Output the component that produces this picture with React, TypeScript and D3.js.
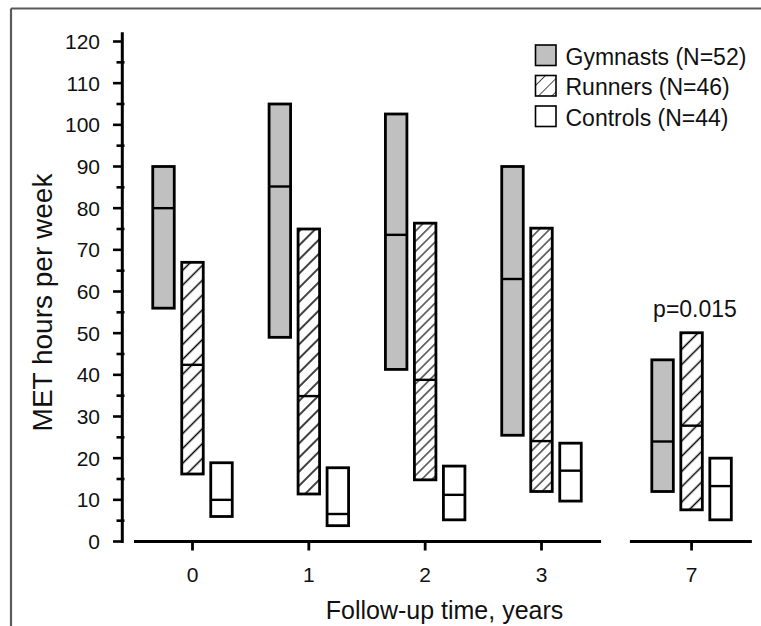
import React from "react";
import * as d3 from "d3";

// Follow-up categories (years) and layout slots of the broken x axis
const years = ["0", "1", "2", "3", "7"];
const slots = [0, 1, 2, 3, 4.29];

// MET hours per week — box top (upper), median, bottom (lower) per group
const gymTop = [90, 105, 102.6, 90, 43.6];
const gymMed = [80, 85.2, 73.6, 63, 24];
const gymBot = [56, 49, 41.3, 25.5, 12];

const runTop = [67, 75, 76.4, 75.2, 50.1];
const runMed = [42.4, 34.9, 38.8, 24.1, 27.8];
const runBot = [16.2, 11.4, 14.8, 12, 7.6];

const conTop = [18.9, 17.7, 18.1, 23.6, 20];
const conMed = [10, 6.6, 11.2, 17, 13.3];
const conBot = [6, 3.8, 5.2, 9.7, 5.2];

const yTicks = [0, 10, 20, 30, 40, 50, 60, 70, 80, 90, 100, 110, 120];
const yMinor = [5, 15, 25, 35, 45, 55, 65, 75, 85, 95, 105, 115];

const legendLabels = ["Gymnasts (N=52)", "Runners (N=46)", "Controls (N=44)"];
const pLabel = "p=0.015";

// hatch spacing per group (style)
const hatchGap = [10.5, 10, 7.2, 7.2, 10.8];
const hatchWidth = [1.5, 1.5, 1.1, 1.1, 1.5];

const FONT = "'Liberation Sans', Arial, Helvetica, sans-serif";

export default function App() {
  const W = 761;
  const H = 626;
  const y = d3.scaleLinear().domain([0, 120]).range([541.5, 41.5]);
  const x = d3.scaleLinear().domain([0, 3]).range([192.5, 541.5]);
  const boxW = 21.5;
  const off = 29;
  const seg1 = [-0.503, 3.512];
  const seg2 = [3.76, 4.808];
  const axisY = y(0);

  const series = [
    { top: gymTop, med: gymMed, bot: gymBot, dx: -off, kind: "gym" },
    { top: runTop, med: runMed, bot: runBot, dx: 0, kind: "run" },
    { top: conTop, med: conMed, bot: conBot, dx: off, kind: "con" },
  ];

  const fillFor = (kind: string, gi: number) =>
    kind === "gym" ? "#c0c0c0" : kind === "run" ? `url(#hatch${gi})` : "#ffffff";

  return (
    <div style={{ position: "fixed", left: 0, top: 0 }}>
      <svg width={W} height={H} style={{ display: "block", background: "#fff" }}>
        <defs>
          {years.map((_, gi) => (
            <pattern
              key={gi}
              id={`hatch${gi}`}
              patternUnits="userSpaceOnUse"
              width={hatchGap[gi]}
              height={hatchGap[gi]}
              patternTransform="rotate(-45)"
            >
              <rect width={hatchGap[gi]} height={hatchGap[gi]} fill="#fff" />
              <line x1={0} x2={hatchGap[gi]} y1={hatchGap[gi] / 2} y2={hatchGap[gi] / 2} stroke="#000" strokeWidth={hatchWidth[gi]} />
            </pattern>
          ))}
          <pattern id="hatchLeg" patternUnits="userSpaceOnUse" width={9.5} height={9.5} patternTransform="translate(535,45) rotate(-45)">
            <rect width={9.5} height={9.5} fill="#fff" />
            <line x1={0} x2={9.5} y1={0} y2={0} stroke="#000" strokeWidth={1.4} />
          </pattern>
        </defs>

        {/* frame */}
        <line x1={11} x2={W} y1={8.5} y2={8.5} stroke="#5a5a5a" strokeWidth={2.2} />
        <line x1={11} x2={11} y1={8.5} y2={H} stroke="#5a5a5a" strokeWidth={2.2} />

        {/* y axis */}
        <line x1={122.3} x2={122.3} y1={y(0) + 1.5} y2={y(122.2)} stroke="#000" strokeWidth={3} />
        {yTicks.map((t) => (
          <g key={t}>
            <line x1={113} x2={122} y1={y(t)} y2={y(t)} stroke="#000" strokeWidth={2.6} />
            <text x={100} y={y(t)} dy="0.36em" textAnchor="end" fontFamily={FONT} fontSize={21} fill="#111">
              {t}
            </text>
          </g>
        ))}
        {yMinor.map((t) => (
          <line key={t} x1={116.5} x2={124.5} y1={y(t)} y2={y(t)} stroke="#000" strokeWidth={2.6} />
        ))}
        <text
          transform={`translate(51.5,302.5) rotate(-90)`}
          textAnchor="middle"
          fontFamily={FONT}
          fontSize={28}
          fill="#111"
        >
          MET hours per week
        </text>

        {/* x axis (broken) */}
        <line x1={x(seg1[0])} x2={x(seg1[1])} y1={axisY} y2={axisY} stroke="#000" strokeWidth={2.8} />
        <line x1={x(seg2[0])} x2={x(seg2[1])} y1={axisY} y2={axisY} stroke="#000" strokeWidth={2.8} />
        {years.map((yr, i) => (
          <g key={yr}>
            <line x1={x(slots[i])} x2={x(slots[i])} y1={axisY} y2={axisY + 9} stroke="#000" strokeWidth={2.8} />
            <text x={x(slots[i])} y={582} textAnchor="middle" fontFamily={FONT} fontSize={21} fill="#111">
              {yr}
            </text>
          </g>
        ))}
        <text x={444.5} y={619} textAnchor="middle" fontFamily={FONT} fontSize={25} fill="#111">
          Follow-up time, years
        </text>

        {/* boxes */}
        {years.map((yr, gi) =>
          series.map((s) => {
            const cx = x(slots[gi]) + s.dx;
            const top = y(s.top[gi]);
            const bot = y(s.bot[gi]);
            const med = y(s.med[gi]);
            return (
              <g key={yr + s.kind}>
                <rect
                  x={cx - boxW / 2}
                  y={top}
                  width={boxW}
                  height={bot - top}
                  fill={fillFor(s.kind, gi)}
                  stroke="#000"
                  strokeWidth={2.8}
                />
                <line x1={cx - boxW / 2} x2={cx + boxW / 2} y1={med} y2={med} stroke="#000" strokeWidth={2.4} />
              </g>
            );
          })
        )}

        {/* p value */}
        <text x={695} y={317} textAnchor="middle" fontFamily={FONT} fontSize={23} fill="#111">
          {pLabel}
        </text>

        {/* legend */}
        {legendLabels.map((lab, i) => {
          const ly = 45 + i * 30.5;
          const fill = i === 0 ? "#c0c0c0" : i === 1 ? "url(#hatchLeg)" : "#fff";
          return (
            <g key={lab}>
              <rect x={535.5} y={ly} width={20.5} height={20.5} fill={fill} stroke="#000" strokeWidth={1.6} />
              <text x={565.5} y={ly + 19.5} fontFamily={FONT} fontSize={23} fill="#111">
                {lab}
              </text>
            </g>
          );
        })}
      </svg>
    </div>
  );
}
